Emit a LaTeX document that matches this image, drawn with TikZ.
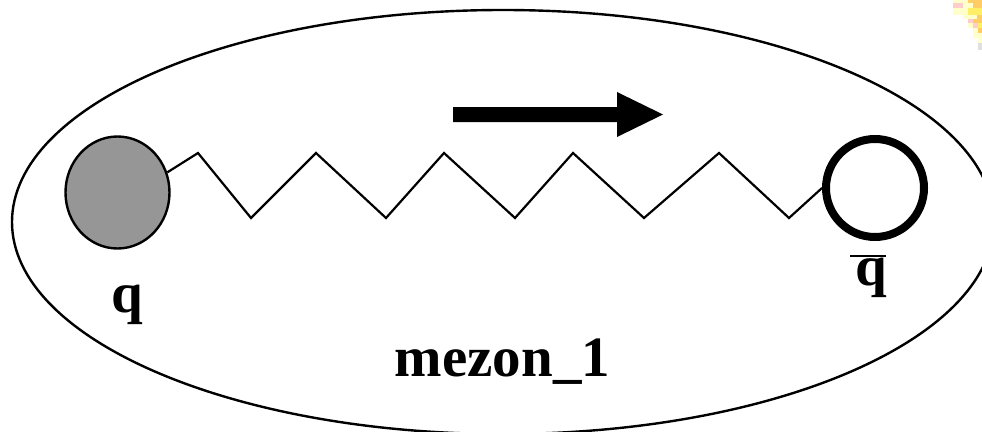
\documentclass[tikz,border=0pt]{standalone}
\usepackage{fontspec}
\setmainfont{Liberation Serif}
\usetikzlibrary{shapes.geometric}
\definecolor{quarkgray}{RGB}{150,150,150}
\definecolor{paleyellow}{RGB}{255,255,204}
\definecolor{sunyellow}{RGB}{255,238,102}
\definecolor{sunorange}{RGB}{255,204,102}
\definecolor{sunpink}{RGB}{255,204,204}
\tikzset{
  outline/.style={draw=black, line width=2.4pt},
  quark/.style={ellipse, outline, fill=quarkgray, minimum width=104pt, minimum height=112pt, inner sep=0pt},
  antiquark/.style={circle, draw=black, line width=8pt, fill=white, minimum size=98pt, inner sep=0pt},
  spring/.style={draw=black, line width=2.2pt, line join=miter},
  label/.style={font=\bfseries\fontsize{57}{60}\selectfont, inner sep=0pt, anchor=base},
  pixel/.style={draw=none}
}
\begin{document}
\begin{tikzpicture}[x=1pt, y=-1pt]
  \useasboundingbox (0,0) rectangle (982,431);
  \clip (0,0) rectangle (982,431);

  % meson envelope
  \node[ellipse, outline, minimum width=982pt, minimum height=424pt, inner sep=0pt] (meson) at (503,222) {};

  % quark and antiquark
  \node[quark] (gq) at (117.5,192.5) {};
  \node[antiquark] (aq) at (875,188) {};

  % string between them
  \draw[spring] (gq.22) -- (198,153) -- (251,218) -- (316,153) -- (386,218)
    -- (444,153) -- (515,218) -- (573,153) -- (644,218) -- (719,153)
    -- (789,218) -- (aq.west);

  % direction of motion
  \fill[black] (453,107) -- (617,107) -- (617,92) -- (663,114.5)
    -- (617,137) -- (617,122) -- (453,122) -- cycle;

  % labels
  \node[label] (ql) at (127,312) {q};
  \node[label] (aql) at (871,285) {q};
  \draw[black, line width=1.6pt] (850,256) -- (886,256);
  \node[label] (name) at (502.5,376) {mezon\_1};

  % corner ornament
  \fill[paleyellow] (953,0) rectangle (968,3);
  \fill[sunorange] (968,0) rectangle (982,3);
  \fill[sunpink] (953,3) rectangle (963,8);
  \fill[paleyellow] (963,3) rectangle (973,8);
  \fill[sunorange] (973,3) rectangle (982,8);
  \fill[paleyellow] (953,8) rectangle (968,15);
  \fill[sunyellow] (968,8) rectangle (982,15);
  \fill[paleyellow] (963,15) rectangle (977,19);
  \fill[sunorange] (977,15) rectangle (982,19);
  \fill[sunpink] (968,19) rectangle (973,23);
  \fill[sunorange] (973,19) rectangle (982,23);
  \fill[paleyellow] (968,23) rectangle (973,28);
  \fill[sunpink] (973,23) rectangle (978,28);
  \fill[sunyellow] (978,23) rectangle (982,28);
  \fill[paleyellow] (973,28) rectangle (978,33);
  \fill[sunorange] (978,28) rectangle (982,33);
  \fill[paleyellow] (973,33) rectangle (982,38);
  \fill[paleyellow] (978,38) rectangle (982,43);
  \fill[black!12] (978,43) rectangle (982,50);
\end{tikzpicture}
\end{document}
